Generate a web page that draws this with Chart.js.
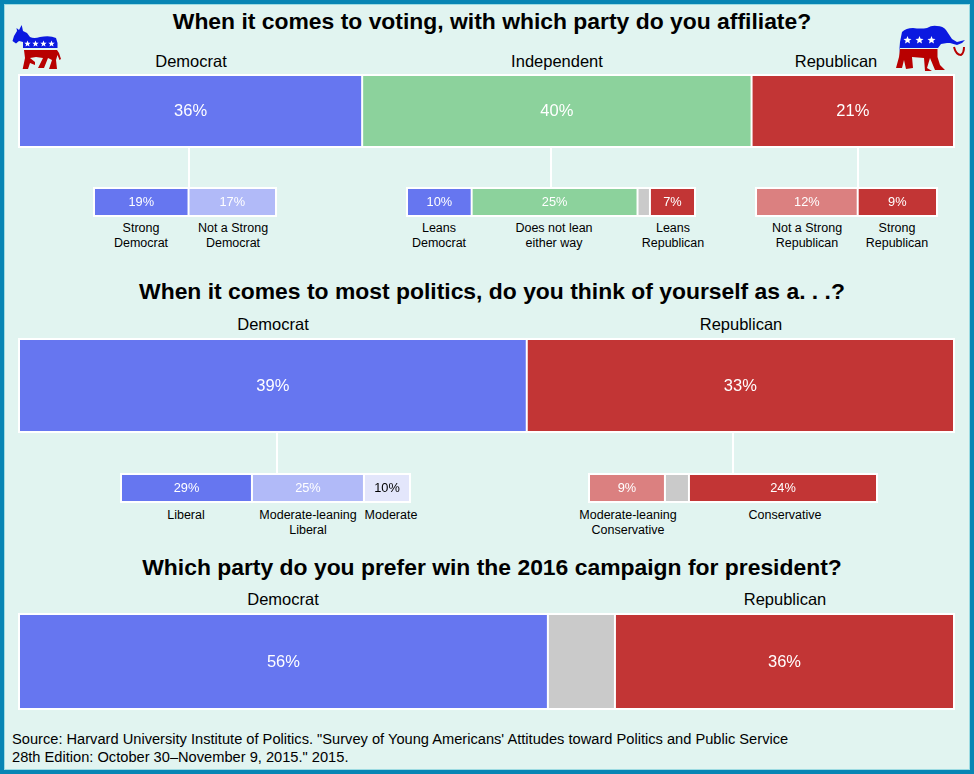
<!DOCTYPE html>
<html>
<head>
<meta charset="utf-8">
<title>Party affiliation of young Americans</title>
<script src="https://cdn.jsdelivr.net/npm/chart.js@4"></script>
<style>
  html, body { margin: 0; padding: 0; }
  body { width: 974px; height: 774px; overflow: hidden; background: #e1f4f0; font-family: "Liberation Sans", Arial, sans-serif; color: #000; }
  #frame { position: absolute; left: 0; top: 0; width: 966px; height: 766px; border: 4px solid #0785b4; box-shadow: inset 0 0 0 1px #9ddbe2; }
  canvas { position: absolute; background: #fff; }
  .txt { position: absolute; white-space: nowrap; text-align: center; transform: translateX(-50%); }
  .title { font-weight: bold; font-size: 22.9px; line-height: 26px; }
  .head { font-size: 16.5px; line-height: 20px; }
  .name { font-size: 12.5px; line-height: 15px; }
  .source { position: absolute; left: 12px; top: 731px; font-size: 14.65px; line-height: 17.5px; white-space: nowrap; }
  .stem { position: absolute; width: 2px; background: #fff; }
  svg { position: absolute; left: 0; top: 0; }
</style>
</head>
<body>
<div id="frame"></div>
<svg width="974" height="774" viewBox="0 0 974 774">
  <!-- donkey -->
  <path fill="#0b19e0" d="M21.7 25L23 31L27 33L30 37Q34 39 40 37Q50 35 56 38L57.5 43V48H23V42L19 41L16 43.5L12.5 41L14 36L17 31L16.5 28L19 30Z"/>
  <path fill="#b80000" d="M24 50H57L59 53L61 59L59.5 60L57.5 55L56 60L57 69H49L52 60L48 58L44 68H38L43 58L36 57L30 58L35 62V65L30 63L28 69H22.7L25 58Z"/>
  <!-- elephant -->
  <path fill="#0b19e0" d="M899 54L900 42L902 32Q906 28 913 28Q921 29 927 28Q932 25 937 26Q943 26 946 30L952 39L957 42L965 40L962 43L957 45L950 43L947 43L941 44L938 48H900Z"/>
  <path fill="#b80000" d="M900 49H937.5V57L940 65L945 70H935L930 58L927 68L932 71H925L924 58L912 57L913 68L906 69L904 60L902 68L896 68L899 57Z"/>
  <path fill="none" stroke="#b80000" stroke-width="2" d="M954 47Q956 55 961 55Q964 53 964 47"/>
  <g fill="#fff">
    <path id="s" d="M27.5 42.5l.9 2.2 2.3.1-1.8 1.4.6 2.3-2-1.3-2 1.3.6-2.3-1.8-1.4 2.3-.1z" transform="translate(0 -2)"/>
    <use href="#s" x="8"/><use href="#s" x="16"/><use href="#s" x="24"/>
    <path id="e" d="M907.5 36l1.1 2.7 2.9.2-2.2 1.8.7 2.8-2.5-1.5-2.5 1.5.7-2.8-2.2-1.8 2.9-.2z"/>
    <use href="#e" x="12"/><use href="#e" x="24"/>
  </g>
</svg>
<div class="source">Source: Harvard University Institute of Politics. "Survey of Young Americans' Attitudes toward Politics and Public Service<br>28th Edition: October 30–November 9, 2015." 2015.</div>
<script>
// Shares are estimated from the bar widths, the printed labels are the rounded figures
const affiliationNames = ['Democrat', 'Independent', 'Republican'];
const affiliationValues = [35.6, 40.4, 21.0];
const affiliationLabels = ['36%', '40%', '21%'];

const demStrengthNames = ['Strong\nDemocrat', 'Not a Strong\nDemocrat'];
const demStrengthValues = [18.7, 17.3];
const demStrengthLabels = ['19%', '17%'];

const indLeanNames = ['Leans\nDemocrat', 'Does not lean\neither way', '', 'Leans\nRepublican'];
const indLeanValues = [9.9, 25.4, 1.9, 6.9];
const indLeanLabels = ['10%', '25%', '', '7%'];

const repStrengthNames = ['Not a Strong\nRepublican', 'Strong\nRepublican'];
const repStrengthValues = [11.8, 9.2];
const repStrengthLabels = ['12%', '9%'];

const politicsNames = ['Democrat', 'Republican'];
const politicsValues = [39.1, 32.9];
const politicsLabels = ['39%', '33%'];

const demIdeologyNames = ['Liberal', 'Moderate-leaning\nLiberal', 'Moderate'];
const demIdeologyValues = [29.0, 24.8, 10.2];
const demIdeologyLabels = ['29%', '25%', '10%'];

const repIdeologyNames = ['Moderate-leaning\nConservative', '', 'Conservative'];
const repIdeologyValues = [9.49, 3.0, 23.5];
const repIdeologyLabels = ['9%', '', '24%'];

const campaignNames = ['Democrat', '', 'Republican'];
const campaignValues = [56.0, 7.1, 35.9];
const campaignLabels = ['56%', '', '36%'];

const BLUE = '#6676f0', LIGHT_BLUE = '#b1baf8', PALE_BLUE = '#e3e6fb';
const RED = '#c23535', LIGHT_RED = '#db8080';
const GREEN = '#8cd29c', GRAY = '#cacaca';

// Writes the value labels in the middle of each bar segment
const segmentLabels = {
  id: 'segmentLabels',
  afterDatasetsDraw(chart, args, opts) {
    const ctx = chart.ctx;
    ctx.save();
    ctx.font = opts.size + 'px "Liberation Sans", Arial, sans-serif';
    ctx.textAlign = 'center';
    ctx.textBaseline = 'middle';
    chart.data.datasets.forEach((ds, i) => {
      if (!ds.valueLabel) return;
      const bar = chart.getDatasetMeta(i).data[0];
      ctx.fillStyle = ds.backgroundColor === PALE_BLUE ? '#000' : '#fff';
      ctx.fillText(ds.valueLabel, (bar.base + bar.x) / 2, bar.y + 0.5);
    });
    ctx.restore();
  }
};

function drawStrip(values, labels, colors, box, size) {
  const canvas = document.createElement('canvas');
  canvas.style.left = box[0] + 'px';
  canvas.style.top = box[1] + 'px';
  canvas.width = box[2];
  canvas.height = box[3];
  canvas.style.width = box[2] + 'px';
  canvas.style.height = box[3] + 'px';
  document.body.appendChild(canvas);

  return new Chart(canvas, {
    type: 'bar',
    data: {
      labels: [''],
      datasets: values.map((v, i) => ({
        data: [v],
        valueLabel: labels[i],
        backgroundColor: colors[i],
        borderColor: '#fff',
        borderWidth: 1,
        borderSkipped: false,
        inflateAmount: 0,
        barPercentage: 1,
        categoryPercentage: 1
      }))
    },
    options: {
      indexAxis: 'y',
      responsive: false,
      animation: false,
      layout: { padding: 1 },
      plugins: {
        legend: { display: false },
        tooltip: { enabled: false },
        segmentLabels: { size: size }
      },
      scales: {
        x: { display: false, stacked: true, min: 0, max: values.reduce((a, b) => a + b, 0) },
        y: { display: false, stacked: true }
      }
    },
    plugins: [segmentLabels]
  });
}

function addText(text, cx, top, cls) {
  const el = document.createElement('div');
  el.className = 'txt ' + cls;
  el.style.left = cx + 'px';
  el.style.top = top + 'px';
  el.innerHTML = text.replace('\n', '<br>');
  document.body.appendChild(el);
}

function addStem(x, top, height) {
  const el = document.createElement('div');
  el.className = 'stem';
  el.style.left = x + 'px';
  el.style.top = top + 'px';
  el.style.height = height + 'px';
  document.body.appendChild(el);
}

// Main bars
drawStrip(affiliationValues, affiliationLabels, [BLUE, GREEN, RED], [18, 74, 937, 74], 16.5);
drawStrip(politicsValues, politicsLabels, [BLUE, RED], [18, 338, 937, 95], 16.5);
drawStrip(campaignValues, campaignLabels, [BLUE, GRAY, RED], [18, 613, 937, 97], 16.5);

// Breakdown bars
drawStrip(demStrengthValues, demStrengthLabels, [BLUE, LIGHT_BLUE], [93, 187, 184, 30], 12.8);
drawStrip(indLeanValues, indLeanLabels, [BLUE, GREEN, GRAY, RED], [406, 187, 290, 30], 12.8);
drawStrip(repStrengthValues, repStrengthLabels, [LIGHT_RED, RED], [755, 187, 183, 30], 12.8);
drawStrip(demIdeologyValues, demIdeologyLabels, [BLUE, LIGHT_BLUE, PALE_BLUE], [120, 473, 291, 30], 12.8);
drawStrip(repIdeologyValues, repIdeologyLabels, [LIGHT_RED, GRAY, RED], [588, 473, 290, 30], 12.8);

addStem(188, 148, 39);
addStem(550, 148, 39);
addStem(857, 148, 39);
addStem(276, 433, 40);
addStem(732, 433, 40);

addText('When it comes to voting, with which party do you affiliate?', 492, 8, 'title');
addText('When it comes to most politics, do you think of yourself as a. . .?', 492, 278, 'title');
addText('Which party do you prefer win the 2016 campaign for president?', 492, 554, 'title');

[191, 557, 836].forEach((cx, i) => addText(affiliationNames[i], cx, 51, 'head'));
[273, 741].forEach((cx, i) => addText(politicsNames[i], cx, 314, 'head'));
addText(campaignNames[0], 283, 589, 'head');
addText(campaignNames[2], 785, 589, 'head');

[141, 233].forEach((cx, i) => addText(demStrengthNames[i], cx, 221, 'name'));
addText(indLeanNames[0], 439, 221, 'name');
addText(indLeanNames[1], 554, 221, 'name');
addText(indLeanNames[3], 673, 221, 'name');
[807, 897].forEach((cx, i) => addText(repStrengthNames[i], cx, 221, 'name'));
[186, 308, 391].forEach((cx, i) => addText(demIdeologyNames[i], cx, 508, 'name'));
addText(repIdeologyNames[0], 628, 508, 'name');
addText(repIdeologyNames[2], 785, 508, 'name');
</script>
</body>
</html>
